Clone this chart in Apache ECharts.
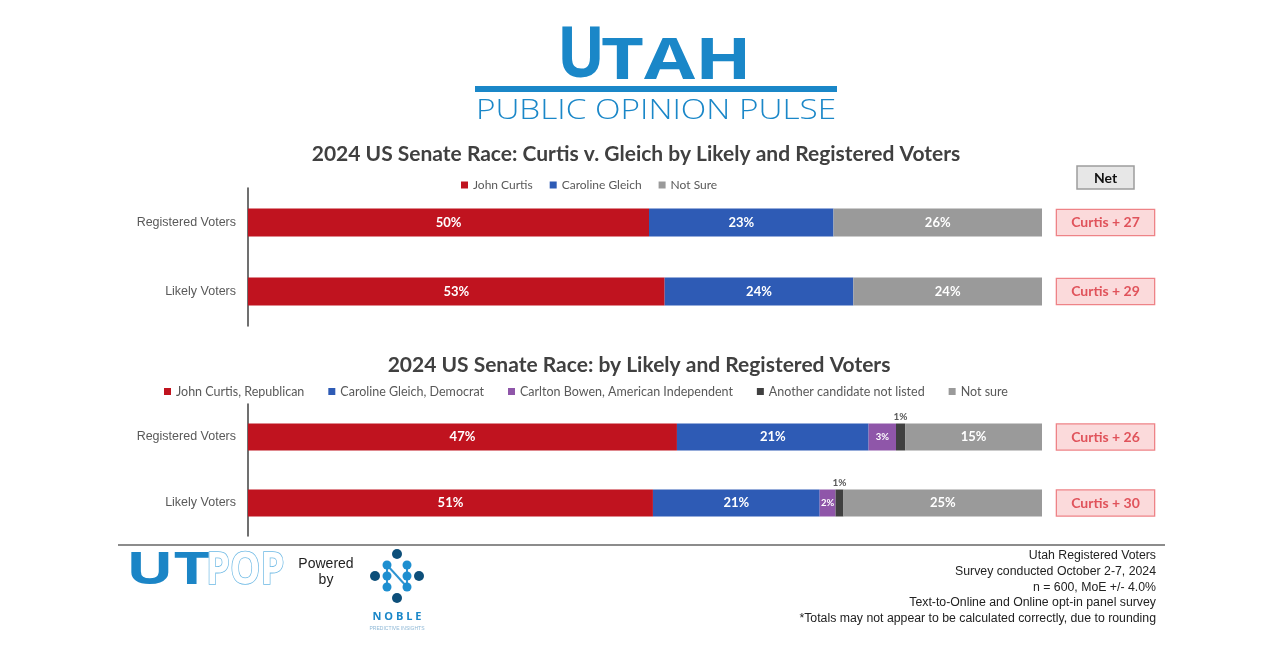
<!DOCTYPE html>
<html><head><meta charset="utf-8">
<script src="https://cdn.jsdelivr.net/npm/echarts@6/dist/echarts.min.js"></script>
<style>html,body{margin:0;padding:0;background:#fff}#c{width:1280px;height:663px}</style>
</head><body><div id="c"></div>
<script>
// ---- data ----
const categories = ['Registered Voters', 'Likely Voters'];

const names1 = ['John Curtis', 'Caroline Gleich', 'Not Sure'];
const curtis1 = [50, 53];
const gleich1 = [23, 24];
const notSure1 = [26, 24];
const net1 = ['Curtis + 27', 'Curtis + 29'];

const names2 = ['John Curtis, Republican', 'Caroline Gleich, Democrat', 'Carlton Bowen, American Independent', 'Another candidate not listed', 'Not sure'];
const curtis2 = [47, 51];
const gleich2 = [21, 21];
const bowen2 = [3, 2];
const other2 = [1, 1];
const notSure2 = [15, 25];
const net2 = ['Curtis + 26', 'Curtis + 30'];

const footnotes = [
  'Utah Registered Voters',
  'Survey conducted October 2-7, 2024',
  'n = 600, MoE +/- 4.0%',
  'Text-to-Online and Online opt-in panel survey',
  '*Totals may not appear to be calculated correctly, due to rounding'
];

const colors = ['#c0131f', '#2e5bb5', '#8f56a9', '#404040', '#9a9a9a'];
const LABEL_GREY = '#595959';
const BLUE = '#1a87c8';

// ---- build ----
function rowSums(arrs) {
  return categories.map((_, i) => arrs.reduce((s, a) => s + a[i], 0));
}
const groups1 = [curtis1, gleich1, notSure1];
const groups2 = [curtis2, gleich2, bowen2, other2, notSure2];
const sums1 = rowSums(groups1);
const sums2 = rowSums(groups2);

function makeSeries(names, groups, sums, axisIdx, stack, barWidth, colorIdx) {
  return names.map((name, k) => {
    const raw = groups[k];
    const ci = colorIdx[k];
    let label = {
      show: true, position: 'inside', color: '#fff', fontWeight: 'bold',
      fontSize: 13, fontFamily: 'Lato',
      formatter: p => raw[p.dataIndex] + '%'
    };
    if (ci === 2) label.fontSize = 9.5;
    if (ci === 3) label = {
      show: true, position: 'top', distance: 2, color: LABEL_GREY, fontWeight: 'bold',
      fontSize: 10, fontFamily: 'Lato', formatter: p => raw[p.dataIndex] + '%'
    };
    return {
      name, type: 'bar', stack, xAxisIndex: axisIdx, yAxisIndex: axisIdx * 2,
      barWidth, itemStyle: { color: colors[ci] },
      label,
      emphasis: { disabled: true },
      data: raw.map((v, i) => v / sums[i] * 100)
    };
  });
}

const series = [
  ...makeSeries(names1, groups1, sums1, 0, 's1', 28, [0, 1, 4]),
  ...makeSeries(names2, groups2, sums2, 1, 's2', 27, [0, 1, 2, 3, 4])
];

function catAxis(gi) {
  return {
    type: 'category', gridIndex: gi, data: categories, inverse: true,
    axisLine: { show: true, lineStyle: { color: '#404040', width: 1.5 } },
    axisTick: { show: false },
    axisLabel: { color: LABEL_GREY, fontSize: 12.5, fontFamily: 'Liberation Sans', margin: 12 }
  };
}
function netAxis(gi, net) {
  return {
    type: 'category', gridIndex: gi, data: categories, inverse: true, position: 'right',
    axisLine: { show: false }, axisTick: { show: false },
    axisLabel: {
      margin: 15,
      formatter: (v, i) => '{n|' + net[i] + '}',
      rich: {
        n: {
          width: 97, height: 25, lineHeight: 25, align: 'center',
          backgroundColor: '#fbdadb', borderColor: '#ee8387', borderWidth: 1.3,
          color: '#e0535b', fontWeight: 'bold', fontSize: 14, fontFamily: 'Lato'
        }
      }
    }
  };
}

const titleStyle = { fontFamily: 'Lato', fontWeight: 'bold', fontSize: 21, color: '#404040' };

const graphic = [
  { type: 'text', x: 557, y: 23, scaleX: 0.92, style: { text: 'U', fontFamily: 'Open Sans', fontWeight: 'bold', fontSize: 69, fill: BLUE, verticalAlign: 'top' } },
  { type: 'text', x: 601, y: 34, scaleX: 1.3, style: { text: 'TAH', fontFamily: 'Open Sans', fontWeight: 'bold', fontSize: 57, fill: BLUE, verticalAlign: 'top' } },
  { type: 'rect', shape: { x: 475, y: 86, width: 362, height: 6 }, style: { fill: BLUE } },
  { type: 'text', x: 656, y: 111, scaleX: 1.19, style: { text: 'PUBLIC OPINION PULSE', fontFamily: 'Open Sans', fontWeight: 300, fontSize: 28, fill: BLUE, align: 'center', verticalAlign: 'middle' } },
  { type: 'rect', shape: { x: 1077, y: 166, width: 57, height: 23 }, style: { fill: '#e7e7e7', stroke: '#9d9d9d', lineWidth: 1.5 } },
  { type: 'text', x: 1105.5, y: 178, style: { text: 'Net', fontFamily: 'Lato', fontWeight: 'bold', fontSize: 14, fill: '#111', align: 'center', verticalAlign: 'middle' } },
  { type: 'line', shape: { x1: 118, y1: 545, x2: 1165, y2: 545 }, style: { stroke: '#8c8c8c', lineWidth: 2 } },
  { type: 'text', x: 126, y: 571, scaleX: 1.4, style: { text: 'UT', fontFamily: 'Open Sans', fontWeight: 'bold', fontSize: 45, fill: '#1b85c6', verticalAlign: 'middle' } },
  { type: 'text', x: 206, y: 571, scaleX: 0.85, style: { text: 'POP', fontFamily: 'Open Sans', fontWeight: 'bold', fontSize: 45, fill: '#fff', stroke: '#6bb8e4', lineWidth: 1.6, verticalAlign: 'middle' } },
  { type: 'text', x: 326, y: 564, style: { text: 'Powered', fontFamily: 'Liberation Sans', fontSize: 14, fill: '#222', align: 'center', verticalAlign: 'middle' } },
  { type: 'text', x: 326, y: 580, style: { text: 'by', fontFamily: 'Liberation Sans', fontSize: 14, fill: '#222', align: 'center', verticalAlign: 'middle' } },
  { type: 'text', x: 397, y: 617, style: { text: 'N O B L E', fontFamily: 'Open Sans', fontWeight: 'bold', fontSize: 11, fill: BLUE, align: 'center', verticalAlign: 'middle' } },
  { type: 'text', x: 397, y: 629, style: { text: 'PREDICTIVE INSIGHTS', fontFamily: 'Liberation Sans', fontSize: 5, fill: '#8fb8d6', align: 'center', verticalAlign: 'middle' } }
];
// NOBLE network mark
const cx = 397, cy = 576;
const lightPts = [[-10, -11], [-10, 0], [-10, 11], [10, -11], [10, 0], [10, 11]];
const darkPts = [[0, -22], [-22, 0], [22, 0], [0, 22]];
const links = [[-10, -11, -10, 11], [10, -11, 10, 11], [-10, -11, 10, 11]];
links.forEach(l => graphic.push({ type: 'line', shape: { x1: cx + l[0], y1: cy + l[1], x2: cx + l[2], y2: cy + l[3] }, style: { stroke: '#2f95d2', lineWidth: 2 } }));
lightPts.forEach(p => graphic.push({ type: 'circle', shape: { cx: cx + p[0], cy: cy + p[1], r: 4.5 }, style: { fill: '#1e8fd0' } }));
darkPts.forEach(p => graphic.push({ type: 'circle', shape: { cx: cx + p[0], cy: cy + p[1], r: 5 }, style: { fill: '#0d4f7a' } }));
footnotes.forEach((t, i) => graphic.push({ type: 'text', x: 1156, y: 556 + i * 15.7, style: { text: t, fontFamily: 'Liberation Sans', fontSize: 12.3, fill: '#222', align: 'right', verticalAlign: 'middle' } }));

const option = {
  animation: false,
  backgroundColor: '#fff',
  title: [
    { text: '2024 US Senate Race: Curtis v. Gleich by Likely and Registered Voters', left: 636, top: 144, textAlign: 'center', textStyle: titleStyle, padding: 0 },
    { text: '2024 US Senate Race: by Likely and Registered Voters', left: 639, top: 355, textAlign: 'center', textStyle: titleStyle, padding: 0 }
  ],
  legend: [
    { data: names1, left: 461, top: 179, icon: 'rect', itemWidth: 7, itemHeight: 7, itemGap: 17, textStyle: { color: LABEL_GREY, fontSize: 12, fontFamily: 'Lato' }, padding: 0, selectedMode: false },
    { data: names2, left: 164, top: 385, icon: 'rect', itemWidth: 7, itemHeight: 7, itemGap: 24, textStyle: { color: LABEL_GREY, fontSize: 12.5, fontFamily: 'Lato' }, padding: 0, selectedMode: false }
  ],
  grid: [
    { left: 248, width: 794, top: 188, height: 138 },
    { left: 248, width: 794, top: 404, height: 132 }
  ],
  xAxis: [
    { type: 'value', gridIndex: 0, min: 0, max: 100, show: false },
    { type: 'value', gridIndex: 1, min: 0, max: 100, show: false }
  ],
  yAxis: [catAxis(0), netAxis(0, net1), catAxis(1), netAxis(1, net2)],
  series,
  graphic
};
const chart = echarts.init(document.getElementById('c'), null, { renderer: 'canvas' });
chart.setOption(option);
</script>
</body></html>
